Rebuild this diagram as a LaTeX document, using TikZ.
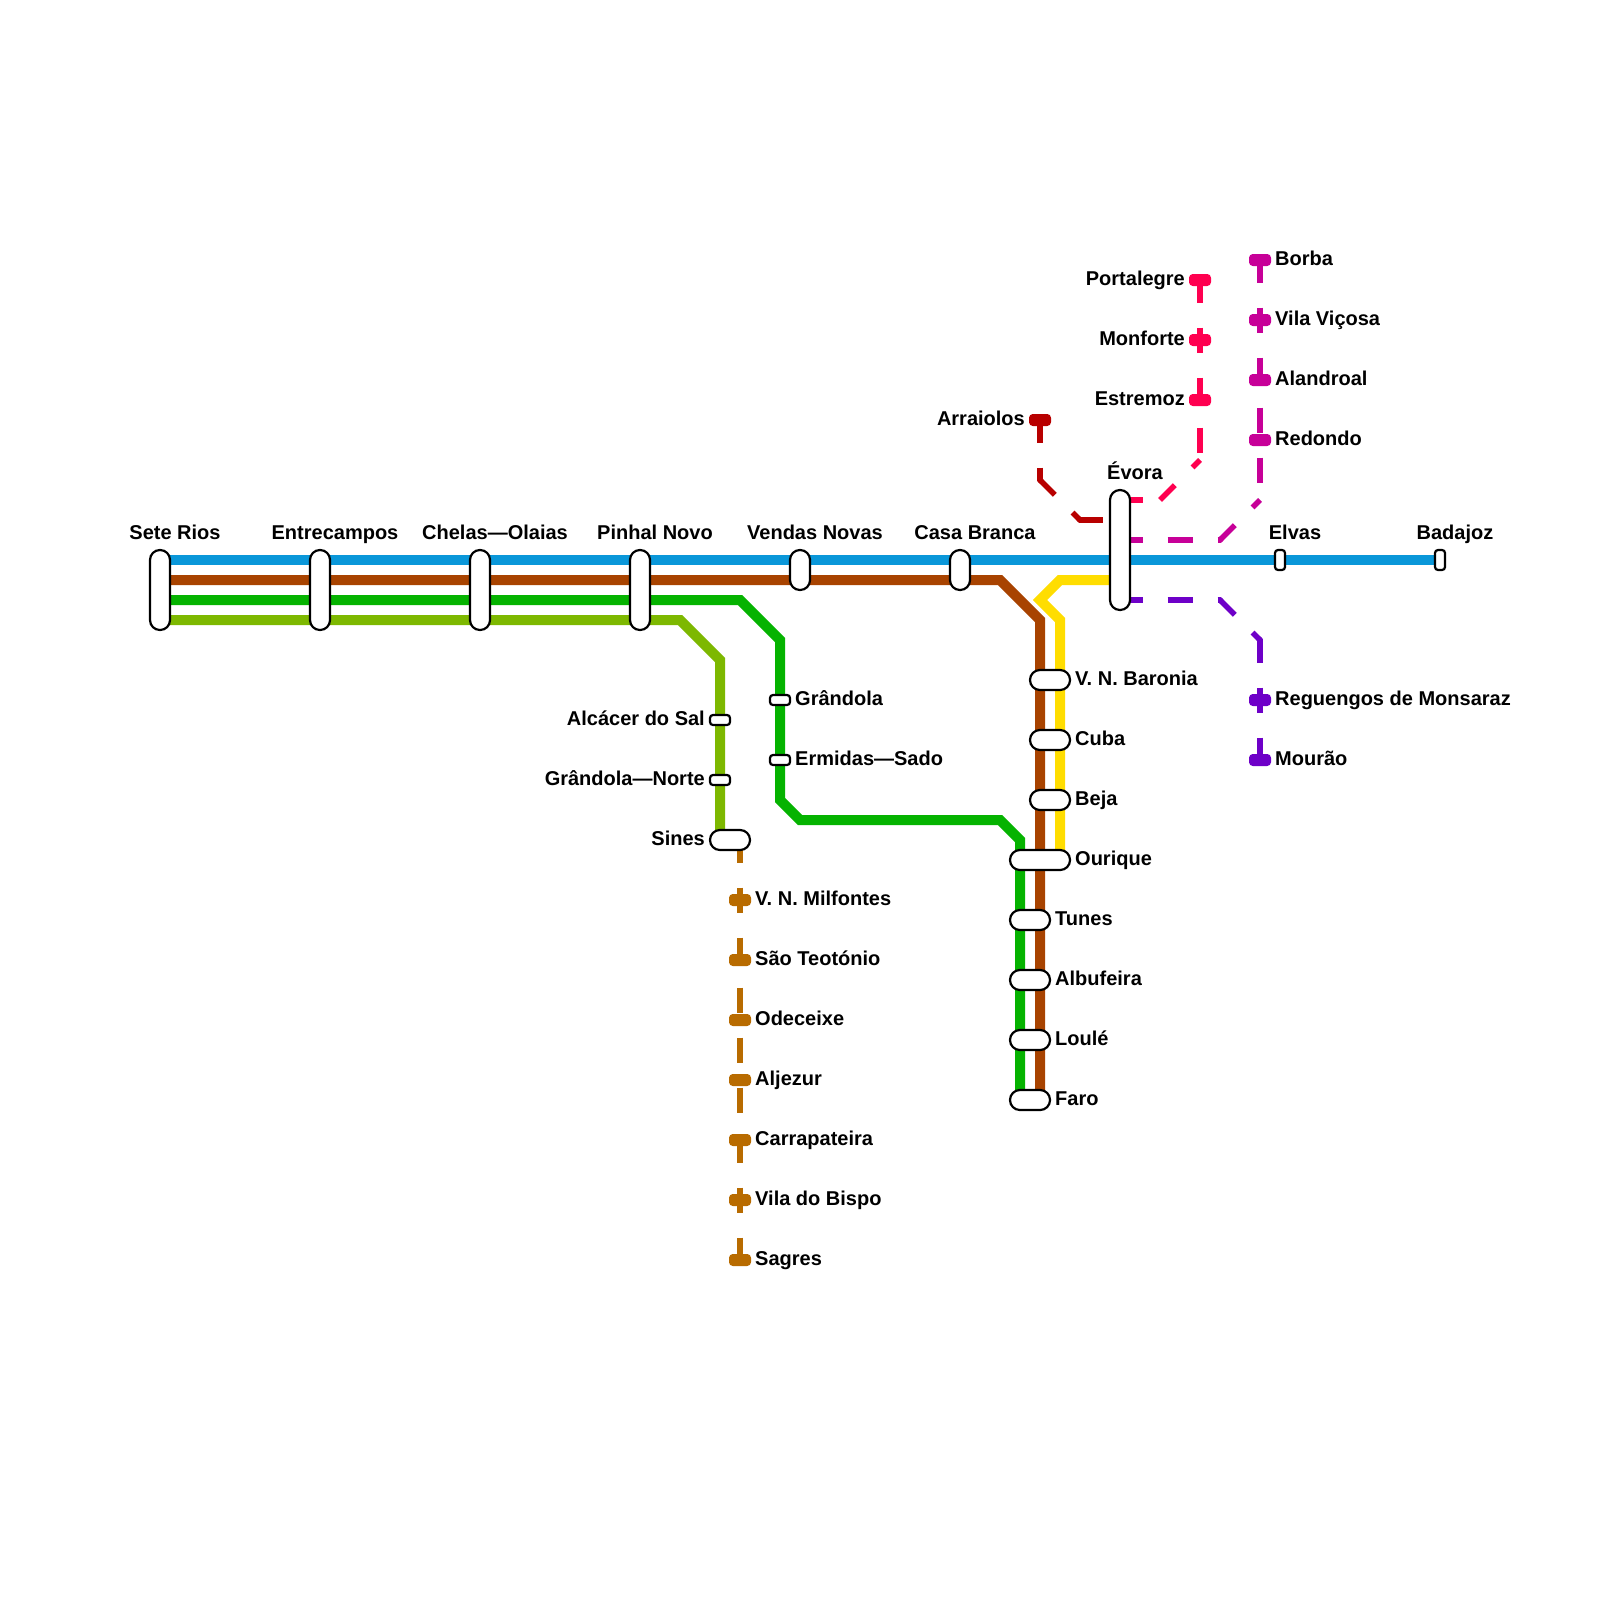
\documentclass[tikz,border=0pt]{standalone}
\usepackage{fontspec}
\setmainfont{Liberation Sans}
\usetikzlibrary{backgrounds,calc}
\definecolor{cblue}{HTML}{0A97D9}
\definecolor{cbrown}{HTML}{A84300}
\definecolor{cgreen}{HTML}{05B300}
\definecolor{clime}{HTML}{7DB800}
\definecolor{cyellow}{HTML}{FFDD00}
\definecolor{cochre}{HTML}{B86B00}
\definecolor{cmag}{HTML}{C70098}
\definecolor{cpink}{HTML}{FF0050}
\definecolor{cdred}{HTML}{B80000}
\definecolor{cpurp}{HTML}{6E00C8}
\tikzset{
  x=1pt,y=-1pt,
  mainline/.style={draw=#1,line width=10pt,line join=miter},
  dashstraight/.style={draw=#1,line width=5.6pt,dash pattern=on 25pt off 25pt,dash phase=2.5pt},
  dashdiag/.style={draw=#1,line width=5.6pt,dash pattern=on 25pt off 25pt,dash phase=4pt},
  joint/.style={draw=#1,line width=5.6pt,line join=miter},
  whitestn/.style={draw=black,fill=white,line width=2.2pt,rectangle,inner sep=0pt,rounded corners=9.9pt},
  tall/.style={whitestn,minimum width=20pt,minimum height=80pt},
  midst/.style={whitestn,minimum width=20pt,minimum height=40pt},
  widest/.style={whitestn,minimum width=40pt,minimum height=20pt},
  smallh/.style={whitestn,rounded corners=3pt,minimum width=20pt,minimum height=10pt},
  smallv/.style={whitestn,rounded corners=3pt,minimum width=10pt,minimum height=20pt},
  termst/.style={draw=#1,fill=#1,line width=2pt,rectangle,inner sep=0pt,rounded corners=3pt,minimum width=20pt,minimum height=10pt},
  lbl/.style={inner sep=0pt,font=\bfseries\fontsize{20pt}{24pt}\selectfont,text=black},
  lblT/.style={lbl,anchor=base},
  lblR/.style={lbl,anchor=base west},
  lblL/.style={lbl,anchor=base east},
}
\begin{document}
\begin{tikzpicture}
\useasboundingbox (0,0) rectangle (1600,1600);
% stations on main line
\node[tall] (sr) at (160,590) {};
\node[tall] (en) at (320,590) {};
\node[tall] (ch) at (480,590) {};
\node[tall] (pn) at (640,590) {};
\node[midst] (vn) at (800,570) {};
\node[midst] (cb) at (960,570) {};
\node[whitestn,minimum width=20pt,minimum height=120pt] (ev) at (1120,550) {};
\node[smallv] (el) at (1280,560) {};
\node[smallv] (ba) at (1440,560) {};
% lime branch
\node[smallh] (al) at (720,720) {};
\node[smallh] (gn) at (720,780) {};
\node[widest] (si) at (730,840) {};
% green branch
\node[smallh] (gr) at (780,700) {};
\node[smallh] (er) at (780,760) {};
% south line
\node[widest] (vb) at (1050,680) {};
\node[widest] (cu) at (1050,740) {};
\node[widest] (be) at (1050,800) {};
\node[whitestn,minimum width=60pt,minimum height=20pt] (ou) at (1040,860) {};
\node[widest] (tu) at (1030,920) {};
\node[widest] (ab) at (1030,980) {};
\node[widest] (lo) at (1030,1040) {};
\node[widest] (fa) at (1030,1100) {};
% planned stations
\node[termst=cpink] (po) at (1200,280) {};
\node[termst=cpink] (mo) at (1200,340) {};
\node[termst=cpink] (es) at (1200,400) {};
\node[termst=cdred] (ar) at (1040,420) {};
\node[termst=cmag] (bo) at (1260,260) {};
\node[termst=cmag] (vv) at (1260,320) {};
\node[termst=cmag] (an) at (1260,380) {};
\node[termst=cmag] (re) at (1260,440) {};
\node[termst=cpurp] (rm) at (1260,700) {};
\node[termst=cpurp] (mr) at (1260,760) {};
\node[termst=cochre] (mi) at (740,900) {};
\node[termst=cochre] (st) at (740,960) {};
\node[termst=cochre] (od) at (740,1020) {};
\node[termst=cochre] (aj) at (740,1080) {};
\node[termst=cochre] (ca) at (740,1140) {};
\node[termst=cochre] (vb2) at (740,1200) {};
\node[termst=cochre] (sa) at (740,1260) {};
% route points
\coordinate (blueA) at (160,560);
\coordinate (brownA) at (160,580);
\coordinate (greenA) at (160,600);
\coordinate (limeA) at (160,620);
\coordinate (brownB) at (1000,580);
\coordinate (brownC) at (1040,620);
\coordinate (brownD) at (1040,1100);
\coordinate (greenB) at (740,600);
\coordinate (greenC) at (780,640);
\coordinate (greenD) at (780,800);
\coordinate (greenE) at (800,820);
\coordinate (greenF) at (1000,820);
\coordinate (greenG) at (1020,840);
\coordinate (greenH) at (1020,1100);
\coordinate (limeB) at (680,620);
\coordinate (limeC) at (720,660);
\coordinate (limeD) at (720,840);
\coordinate (yelA) at (1120,580);
\coordinate (yelB) at (1060,580);
\coordinate (yelC) at (1040,600);
\coordinate (yelD) at (1060,620);
\coordinate (yelE) at (1060,860);
\coordinate (arA) at (1040,480);
\coordinate (arB) at (1080,520);
\coordinate (arC) at (1120,520);
\coordinate (poA) at (1200,460);
\coordinate (poB) at (1160,500);
\coordinate (poC) at (1120,500);
\coordinate (boA) at (1260,500);
\coordinate (boB) at (1220,540);
\coordinate (boC) at (1120,540);
\coordinate (mrA) at (1260,640);
\coordinate (mrB) at (1220,600);
\coordinate (mrC) at (1120,600);
\coordinate (saA) at (740,840);
\begin{pgfonlayer}{background}
\fill[white] (0,0) rectangle (1600,1600);
\draw[mainline=clime] (limeA) -- (limeB) -- (limeC) -- (limeD);
\draw[mainline=cgreen] (greenA) -- (greenB) -- (greenC) -- (greenD) -- (greenE) -- (greenF) -- (greenG) -- (greenH);
\draw[mainline=cbrown] (brownA) -- (brownB) -- (brownC) -- (brownD);
\draw[mainline=cyellow] (yelA) -- (yelB) -- (yelC) -- (yelD) -- (yelE);
\draw[mainline=cblue] (blueA) -- (ba.center);
% Arraiolos
\draw[dashstraight=cdred] (ar.center) -- (arA);
\draw[dashdiag=cdred] (arA) -- (arB);
\draw[dashstraight=cdred] (arB) -- (arC);
\draw[joint=cdred] ($(arA)!2pt!(ar.center)$) -- (arA) -- ($(arA)!2pt!(arB)$);
\draw[joint=cdred] ($(arB)!2pt!(arA)$) -- (arB) -- ($(arB)!2pt!(arC)$);
% Portalegre
\draw[dashstraight=cpink] (po.center) -- (poA);
\draw[dashdiag=cpink] (poB) -- (poA);
\draw[dashstraight=cpink] (poC) -- (poB);
% Borba
\draw[dashstraight=cmag] (bo.center) -- (boA);
\draw[dashdiag=cmag] (boB) -- (boA);
\draw[dashstraight=cmag] (boC) -- (boB);
\draw[joint=cmag] ($(boB)!2pt!(boC)$) -- (boB) -- ($(boB)!2pt!(boA)$);
% Mourao
\draw[dashstraight=cpurp] (mrC) -- (mrB);
\draw[dashdiag=cpurp] (mrB) -- (mrA);
\draw[dashstraight=cpurp] (mrA) -- (mr.center);
\draw[joint=cpurp] ($(mrB)!2pt!(mrC)$) -- (mrB) -- ($(mrB)!2pt!(mrA)$);
\draw[joint=cpurp] ($(mrA)!2pt!(mrB)$) -- (mrA) -- ($(mrA)!2pt!(mr.center)$);
% Sagres
\draw[dashstraight=cochre] (saA) -- (sa.center);
\end{pgfonlayer}
% labels
\node[lblT] (lsr) at (175,539.5) {Sete Rios};
\node[lblT] (len) at (335,539.5) {Entrecampos};
\node[lblT] (lch) at (495,539.5) {Chelas—Olaias};
\node[lblT] (lpn) at (655,539.5) {Pinhal Novo};
\node[lblT] (lvn) at (815,539.5) {Vendas Novas};
\node[lblT] (lcb) at (975,539.5) {Casa Branca};
\node[lblT] (lev) at (1135,479.5) {Évora};
\node[lblT] (lel) at (1295,539.5) {Elvas};
\node[lblT] (lba) at (1455,539.5) {Badajoz};
\node[lblL] (lal) at (705,725.2) {Alcácer do Sal};
\node[lblL] (lgn) at (705,785.2) {Grândola—Norte};
\node[lblL] (lsi) at (705,845.2) {Sines};
\node[lblR] (lgr) at (795,705.2) {Grândola};
\node[lblR] (ler) at (795,765.2) {Ermidas—Sado};
\node[lblR] (lvb) at (1075,685.2) {V. N. Baronia};
\node[lblR] (lcu) at (1075,745.2) {Cuba};
\node[lblR] (lbe) at (1075,805.2) {Beja};
\node[lblR] (lou) at (1075,865.2) {Ourique};
\node[lblR] (ltu) at (1055,925.2) {Tunes};
\node[lblR] (lab) at (1055,985.2) {Albufeira};
\node[lblR] (llo) at (1055,1045.2) {Loulé};
\node[lblR] (lfa) at (1055,1105.2) {Faro};
\node[lblL] (lpo) at (1185,285.2) {Portalegre};
\node[lblL] (lmo) at (1185,345.2) {Monforte};
\node[lblL] (les) at (1185,405.2) {Estremoz};
\node[lblL] (lar) at (1025,425.2) {Arraiolos};
\node[lblR] (lbo) at (1275,265.2) {Borba};
\node[lblR] (lvv) at (1275,325.2) {Vila Viçosa};
\node[lblR] (lan) at (1275,385.2) {Alandroal};
\node[lblR] (lre) at (1275,445.2) {Redondo};
\node[lblR] (lrm) at (1275,705.2) {Reguengos de Monsaraz};
\node[lblR] (lmr) at (1275,765.2) {Mourão};
\node[lblR] (lmi) at (755,905.2) {V. N. Milfontes};
\node[lblR] (lst) at (755,965.2) {São Teotónio};
\node[lblR] (lod) at (755,1025.2) {Odeceixe};
\node[lblR] (laj) at (755,1085.2) {Aljezur};
\node[lblR] (lca) at (755,1145.2) {Carrapateira};
\node[lblR] (lvb2) at (755,1205.2) {Vila do Bispo};
\node[lblR] (lsa) at (755,1265.2) {Sagres};
\end{tikzpicture}
\end{document}
